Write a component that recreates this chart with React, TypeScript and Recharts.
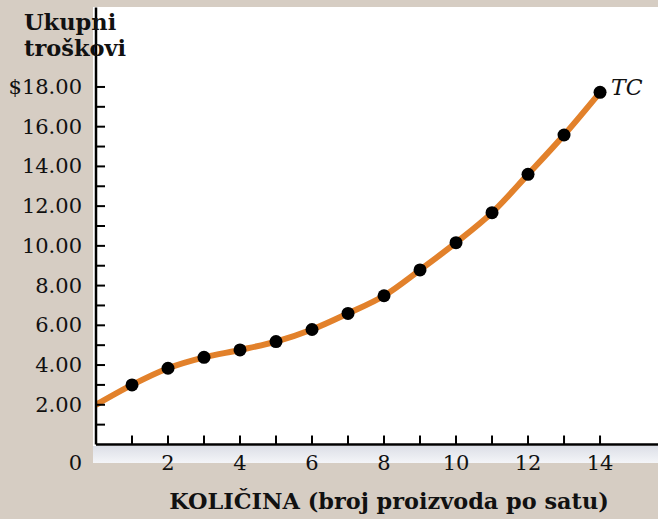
import React from 'react';
import { LineChart, Line, XAxis, YAxis } from 'recharts';

// quantity produced per hour and total cost at each quantity
const quantity = [0, 1, 2, 3, 4, 5, 6, 7, 8, 9, 10, 11, 12, 13, 14];
const totalCost = [2.0, 3.0, 3.84, 4.39, 4.76, 5.18, 5.79, 6.6, 7.49, 8.79, 10.16, 11.67, 13.6, 15.58, 17.73];

const xTicks = [1, 2, 3, 4, 5, 6, 7, 8, 9, 10, 11, 12, 13, 14];
const xTickLabels = ['', '2', '', '4', '', '6', '', '8', '', '10', '', '12', '', '14'];
const yTicks = [0, 1, 2, 3, 4, 5, 6, 7, 8, 9, 10, 11, 12, 13, 14, 15, 16, 17, 18];
const yTickLabels = ['0', '', '2.00', '', '4.00', '', '6.00', '', '8.00', '', '10.00', '', '12.00', '', '14.00', '', '16.00', '', '$18.00'];

const seriesName = 'TC';
const yTitle = ['Ukupni', 'troškovi'];
const xTitle = 'KOLIČINA (broj proizvoda po satu)';

const data = quantity.map((q, i) => ({ q, tc: totalCost[i] }));

const FONT = '"DejaVu Serif", "Liberation Serif", serif';
const W = 658;
const H = 519;

const XTick = (props: any) => {
  const { x, y, payload } = props;
  const idx = xTicks.indexOf(payload.value);
  const label = xTickLabels[idx] || '';
  return (
    <g>
      <line x1={x} y1={y} x2={x} y2={y - 9} stroke="#000" strokeWidth={2} />
      {label && (
        <text x={x} y={y + 18} textAnchor="middle" dominantBaseline="central" fontFamily={FONT} fontSize={21} fill="#111">
          {label}
        </text>
      )}
    </g>
  );
};

const YTick = (props: any) => {
  const { x, y, payload } = props;
  const idx = yTicks.indexOf(payload.value);
  const label = yTickLabels[idx] || '';
  if (payload.value === 0) {
    // origin label sits below the corner
    return (
      <text x={82} y={y + 18} textAnchor="end" dominantBaseline="central" fontFamily={FONT} fontSize={21} fill="#111">
        {label}
      </text>
    );
  }
  return (
    <g>
      <line x1={x} y1={y} x2={x + 9} y2={y} stroke="#000" strokeWidth={2} />
      {label && (
        <text x={82} y={y} textAnchor="end" dominantBaseline="central" fontFamily={FONT} fontSize={21} fill="#111">
          {label}
        </text>
      )}
    </g>
  );
};

const Dot = (props: any) => {
  const { cx, cy, index } = props;
  if (index === 0) return <g key={`d-${index}`} />;
  return (
    <g key={`d-${index}`}>
      <circle cx={cx} cy={cy} r={6.5} fill="#000" />
      {index === data.length - 1 && (
        <text x={cx + 11} y={cy - 5} dominantBaseline="central" fontFamily={FONT} fontStyle="italic" fontSize={22} fill="#111">
          {seriesName}
        </text>
      )}
    </g>
  );
};

const App: React.FC = () => {
  return (
    <div style={{ position: 'absolute', left: 0, top: 0, width: W, height: H, background: '#d6cdc3', overflow: 'hidden' }}>
      {/* white plotting panel with the grey band under the x axis */}
      <div style={{ position: 'absolute', left: 93, top: 7, width: W - 93, height: 456, background: '#fff' }} />
      <div
        style={{
          position: 'absolute',
          left: 93,
          top: 446,
          width: W - 93,
          height: 17,
          background: 'linear-gradient(to bottom, #dcdfe7, #f4f5f8)',
        }}
      />
      <div style={{ position: 'absolute', left: 0, top: 0 }}>
        <LineChart width={W} height={H} data={data} margin={{ top: 7.5, right: 0, bottom: 0, left: 0 }}>
          <XAxis
            type="number"
            dataKey="q"
            domain={[0, 15.61]}
            allowDataOverflow
            ticks={xTicks}
            interval={0}
            tickSize={0}
            tickMargin={0}
            tick={<XTick />}
            axisLine={{ stroke: '#000', strokeWidth: 2.5 }}
            tickLine={false}
            height={74.5}
            label={{
              content: () => (
                <text x={389} y={501} textAnchor="middle" dominantBaseline="central" fontFamily={FONT} fontWeight="bold" fontSize={22.4} fill="#111">
                  {xTitle}
                </text>
              ),
            }}
          />
          <YAxis
            type="number"
            domain={[0, 22]}
            allowDataOverflow
            ticks={yTicks}
            interval={0}
            tickSize={0}
            tickMargin={0}
            tick={<YTick />}
            axisLine={{ stroke: '#000', strokeWidth: 2.5 }}
            tickLine={false}
            width={96}
            label={{
              content: () => (
                <text x={24} fontFamily={FONT} fontWeight="bold" fontSize={22.5} fill="#111">
                  <tspan x={24} y={30}>{yTitle[0]}</tspan>
                  <tspan x={24} y={56}>{yTitle[1]}</tspan>
                </text>
              ),
            }}
          />
          <Line
            type="monotone"
            dataKey="tc"
            stroke="#e2812b"
            strokeWidth={6}
            dot={<Dot />}
            activeDot={false}
            isAnimationActive={false}
          />
        </LineChart>
      </div>
    </div>
  );
};

export default App;
